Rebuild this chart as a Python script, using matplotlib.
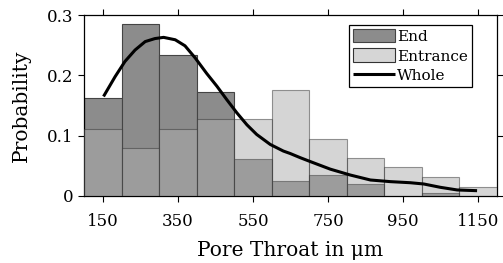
import matplotlib
matplotlib.use("Agg")
import matplotlib.pyplot as plt
import numpy as np

# histogram bins (pore throat size, um)
bin_edges = [100, 200, 300, 400, 500, 600, 700, 800, 900, 1000, 1100, 1200]
end_prob = [0.162, 0.285, 0.234, 0.172, 0.061, 0.025, 0.035, 0.020, 0.0, 0.005, 0.0]
entrance_prob = [0.111, 0.079, 0.111, 0.127, 0.127, 0.175, 0.095, 0.063, 0.0475, 0.0315, 0.0155]

# whole distribution curve
whole_x = [152, 183, 209, 236, 263, 289, 312, 343, 369, 396, 427, 454, 480, 507,
           534, 560, 596, 631, 649, 676, 703, 756, 809, 863, 916, 969, 1005,
           1049, 1094, 1147]
whole_y = [0.165, 0.198, 0.223, 0.242, 0.256, 0.261, 0.263, 0.259, 0.249, 0.229,
           0.203, 0.182, 0.160, 0.138, 0.118, 0.102, 0.0855, 0.0745, 0.0705, 0.0635,
           0.057, 0.0445, 0.0348, 0.0265, 0.0238, 0.022, 0.0199, 0.0144, 0.010, 0.0088]

xticks = [150, 350, 550, 750, 950, 1150]
yticks = [0, 0.1, 0.2, 0.3]
ytick_labels = ["0", "0.1", "0.2", "0.3"]

plt.rcParams["font.family"] = ["DejaVu Serif"]

fig = plt.figure(figsize=(5.03, 2.63), dpi=100)
ax = fig.add_axes([0.167, 0.2548, 0.821, 0.688])

left = np.array(bin_edges[:-1])
widths = np.diff(bin_edges)
b_end = ax.bar(left, end_prob, widths, align="edge", color="#8c8c8c",
               edgecolor="#444444", linewidth=0.8, label="End", zorder=2)
b_ent = ax.bar(left, entrance_prob, widths, align="edge", color="#adadad", alpha=0.5,
               edgecolor="#333333", linewidth=0.8, label="Entrance", zorder=3)
line, = ax.plot(whole_x, whole_y, color="black", linewidth=2.2, label="Whole",
                zorder=4, solid_capstyle="butt")

ax.set_xlim(100, 1200)
ax.set_ylim(0, 0.3)
ax.set_xticks(xticks)
ax.set_yticks(yticks)
ax.set_yticklabels(ytick_labels)
ax.tick_params(direction="out", length=4, width=0.8, labelsize=12,
               top=True, right=True, labeltop=False, labelright=False)
ax.tick_params(axis="x", pad=8)
for s in ax.spines.values():
    s.set_linewidth(0.9)

ax.set_xlabel("Pore Throat in μm", fontsize=14.5, labelpad=8)
ax.set_ylabel("Probability", fontsize=14.5, labelpad=12)

leg = ax.legend([b_end, b_ent, line], ["End", "Entrance", "Whole"],
                loc="upper right", bbox_to_anchor=(0.939, 0.945), fontsize=11,
                frameon=True, fancybox=False, edgecolor="black", framealpha=1,
                handlelength=2.75, handleheight=1.0, handletextpad=0.15,
                borderpad=0.25, labelspacing=0.3, borderaxespad=0)
leg.get_frame().set_linewidth(0.9)
leg.legend_handles[1].set_alpha(1)
leg.legend_handles[1].set_facecolor("#d6d6d6")

fig.savefig("out.png", dpi=100)
